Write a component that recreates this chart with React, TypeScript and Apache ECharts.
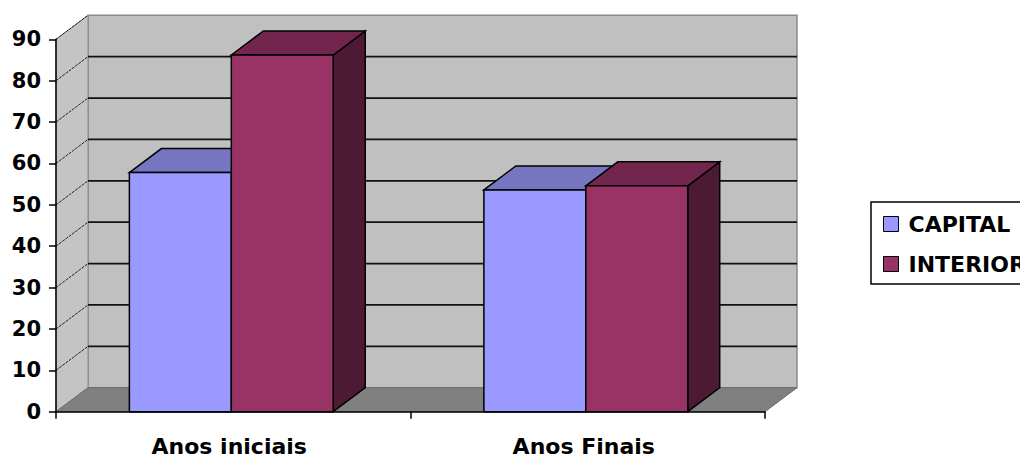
import React, { useEffect, useRef } from "react";
import * as echarts from "echarts";

const categories = ["Anos iniciais", "Anos Finais"];
const capital = [57.8, 53.6];
const interior = [86.2, 54.6];
const yTicks = [0, 10, 20, 30, 40, 50, 60, 70, 80, 90];

const DX = 32;
const DY = 24;
const FONT = "DejaVu Sans";

function barRenderer(slot: number, front: string, top: string, side: string) {
  return (params: any, api: any) => {
    const cat = api.value(0);
    const val = api.value(1);
    const base = api.coord([cat, 0]);
    const tp = api.coord([cat, val]);
    const band = api.size([1, 0])[0];
    const w = band * 0.2875;
    const x0 = base[0] - band * 0.293 + slot * w;
    const x1 = x0 + w;
    const yb = base[1];
    const yt = tp[1];
    return {
      type: "group",
      children: [
        {
          type: "polygon",
          shape: { points: [[x1, yb], [x1 + DX, yb - DY], [x1 + DX, yt - DY], [x1, yt]] },
          style: { fill: side, stroke: "#000", lineWidth: 1.5 },
        },
        {
          type: "polygon",
          shape: { points: [[x0, yt], [x0 + DX, yt - DY], [x1 + DX, yt - DY], [x1, yt]] },
          style: { fill: top, stroke: "#000", lineWidth: 1.5 },
        },
        {
          type: "rect",
          shape: { x: x0, y: yt, width: w, height: yb - yt },
          style: { fill: front, stroke: "#000", lineWidth: 1.5 },
        },
      ],
    };
  };
}

export default function App() {
  const ref = useRef<HTMLDivElement>(null);
  useEffect(() => {
    if (!ref.current) return;
    const chart = echarts.init(ref.current, undefined, { renderer: "svg" });
    const wallRender = (params: any, api: any) => {
      const cs = params.coordSys;
      const xl = cs.x;
      const xr = cs.x + cs.width;
      const yt = cs.y;
      const yb = cs.y + cs.height;
      return {
        type: "group",
        children: [
          {
            type: "rect",
            shape: { x: xl + DX, y: yt - DY, width: cs.width, height: cs.height },
            style: { fill: "#c0c0c0", stroke: "#8a8a8a", lineWidth: 1.5 },
          },
          {
            type: "polygon",
            shape: { points: [[xl, yt], [xl + DX, yt - DY], [xl + DX, yb - DY], [xl, yb]] },
            style: { fill: "#c4c4c4", stroke: "#8a8a8a", lineWidth: 1 },
          },
          {
            type: "polygon",
            shape: { points: [[xl, yb], [xl + DX, yb - DY], [xr + DX, yb - DY], [xr, yb]] },
            style: { fill: "#808080", stroke: "#6a6a6a", lineWidth: 1 },
          },
        ],
      };
    };
    const gridRender = (params: any, api: any) => {
      const cs = params.coordSys;
      const v = api.value(1);
      const y = api.coord([0, v])[1];
      const xl = cs.x;
      const xr = cs.x + cs.width;
      const children: any[] = [];
      if (v > 0 && v < 90) {
        children.push({
          type: "line",
          shape: { x1: xl + DX, y1: y - DY, x2: xr + DX, y2: y - DY },
          style: { stroke: "#111", lineWidth: 1.8 },
        });
      }
      if (v > 0) {
        children.push({
          type: "line",
          shape: { x1: xl, y1: y, x2: xl + DX, y2: y - DY },
          style: { stroke: "#222", lineWidth: 1, lineDash: [3, 1] },
        });
      }
      return { type: "group", children };
    };
    chart.setOption({
      animation: false,
      backgroundColor: "#ffffff",
      grid: { left: 56, top: 39.3, right: 255, bottom: 47.3 },
      legend: {
        orient: "vertical",
        left: 871,
        top: 202,
        data: ["CAPITAL", "INTERIOR"],
        icon: "rect",
        itemWidth: 15,
        itemHeight: 15,
        itemGap: 16,
        padding: [10, 20, 8, 12],
        borderColor: "#000",
        borderWidth: 1.5,
        backgroundColor: "#fff",
        textStyle: {
          fontFamily: FONT,
          fontWeight: "bold",
          fontSize: 22,
          color: "#000",
          lineHeight: 24,
          padding: [0, 0, 0, 5],
        },
        itemStyle: { borderColor: "#000", borderWidth: 1 },
      },
      xAxis: {
        type: "category",
        data: categories,
        axisLine: { show: true, lineStyle: { color: "#000", width: 1.5 } },
        axisTick: { show: true, length: 7, lineStyle: { color: "#000", width: 1.5 } },
        axisLabel: {
          margin: 24,
          fontFamily: FONT,
          fontWeight: "bold",
          fontSize: 22,
          color: "#000",
          padding: [0, 8, 0, 0],
        },
        splitLine: { show: false },
        z: 10,
      },
      yAxis: {
        type: "value",
        min: 0,
        max: 90,
        interval: 10,
        axisLine: { show: true, lineStyle: { color: "#000", width: 1.5 } },
        axisTick: { show: true, length: 7, lineStyle: { color: "#000", width: 1.5 } },
        axisLabel: {
          margin: 15,
          fontFamily: FONT,
          fontWeight: "bold",
          fontSize: 21,
          color: "#000",
        },
        splitLine: { show: false },
        z: 10,
      },
      series: [
        {
          type: "custom",
          name: "wall",
          silent: true,
          clip: false,
          z: 1,
          renderItem: wallRender,
          data: [[0, 0]],
        },
        {
          type: "custom",
          name: "gridlines",
          silent: true,
          clip: false,
          z: 2,
          renderItem: gridRender,
          data: yTicks.map((v) => [0, v]),
        },
        {
          type: "custom",
          name: "CAPITAL",
          clip: false,
          z: 3,
          itemStyle: { color: "#9999ff" },
          renderItem: barRenderer(0, "#9999ff", "#7676c0", "#4d4d80"),
          data: capital.map((v, i) => [i, v]),
        },
        {
          type: "custom",
          name: "INTERIOR",
          clip: false,
          z: 4,
          itemStyle: { color: "#993366" },
          renderItem: barRenderer(1, "#993366", "#73264d", "#4c1a33"),
          data: interior.map((v, i) => [i, v]),
        },
      ],
    });
    return () => chart.dispose();
  }, []);
  return (
    <div
      ref={ref}
      style={{ position: "absolute", left: 0, top: 0, width: 1020, height: 459 }}
    />
  );
}
